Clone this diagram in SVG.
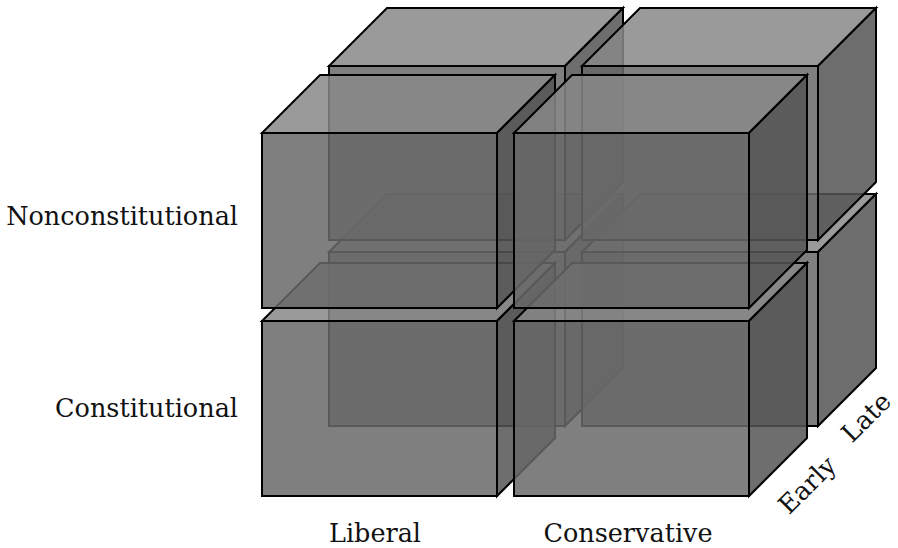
<svg xmlns="http://www.w3.org/2000/svg" width="898" height="548" viewBox="0 0 898 548">
<defs>
<style>
.f{fill:#696969;fill-opacity:0.85;stroke:#000;stroke-width:2;stroke-linejoin:miter}
.t{fill:#888888;fill-opacity:0.85;stroke:#000;stroke-width:2;stroke-linejoin:miter}
.r{fill:#555555;fill-opacity:0.85;stroke:#000;stroke-width:2;stroke-linejoin:miter}
.lbl{font-family:"DejaVu Serif","Liberation Serif",serif;font-size:25.5px;fill:#111}
</style>
</defs>
<rect width="898" height="548" fill="#fff"/>
<g id="cube-late-con-lib">
<rect class="f" x="329" y="252" width="236" height="174"/>
<polygon class="t" points="329,252 387,194 623,194 565,252"/>
<polygon class="r" points="565,252 623,194 623,368 565,426"/>
</g>
<g id="cube-late-con-cons">
<rect class="f" x="582" y="252" width="236" height="174"/>
<polygon class="t" points="582,252 640,194 876,194 818,252"/>
<polygon class="r" points="818,252 876,194 876,368 818,426"/>
</g>
<g id="cube-late-non-lib">
<rect class="f" x="329" y="66" width="236" height="174"/>
<polygon class="t" points="329,66 387,8 623,8 565,66"/>
<polygon class="r" points="565,66 623,8 623,182 565,240"/>
</g>
<g id="cube-late-non-cons">
<rect class="f" x="582" y="66" width="236" height="174"/>
<polygon class="t" points="582,66 640,8 876,8 818,66"/>
<polygon class="r" points="818,66 876,8 876,182 818,240"/>
</g>
<g id="cube-early-con-lib">
<rect class="f" x="262" y="321" width="235" height="175"/>
<polygon class="t" points="262,321 320,263 555,263 497,321"/>
<polygon class="r" points="497,321 555,263 555,438 497,496"/>
</g>
<g id="cube-early-con-cons">
<rect class="f" x="514" y="321" width="235" height="175"/>
<polygon class="t" points="514,321 572,263 807,263 749,321"/>
<polygon class="r" points="749,321 807,263 807,438 749,496"/>
</g>
<g id="cube-early-non-lib">
<rect class="f" x="262" y="133" width="235" height="175"/>
<polygon class="t" points="262,133 320,75 555,75 497,133"/>
<polygon class="r" points="497,133 555,75 555,250 497,308"/>
</g>
<g id="cube-early-non-cons">
<rect class="f" x="514" y="133" width="235" height="175"/>
<polygon class="t" points="514,133 572,75 807,75 749,133"/>
<polygon class="r" points="749,133 807,75 807,250 749,308"/>
</g>
<g id="connectors"></g>
<g id="labels">
<text class="lbl" x="238" y="225" text-anchor="end">Nonconstitutional</text>
<text class="lbl" x="238" y="417" text-anchor="end">Constitutional</text>
<text class="lbl" x="375" y="542" text-anchor="middle">Liberal</text>
<text class="lbl" x="628" y="542" text-anchor="middle">Conservative</text>
<text class="lbl" text-anchor="middle" transform="translate(807,485) rotate(-45) translate(0,9)">Early</text>
<text class="lbl" text-anchor="middle" transform="translate(866,417) rotate(-45) translate(0,9)">Late</text>
</g>
</svg>
